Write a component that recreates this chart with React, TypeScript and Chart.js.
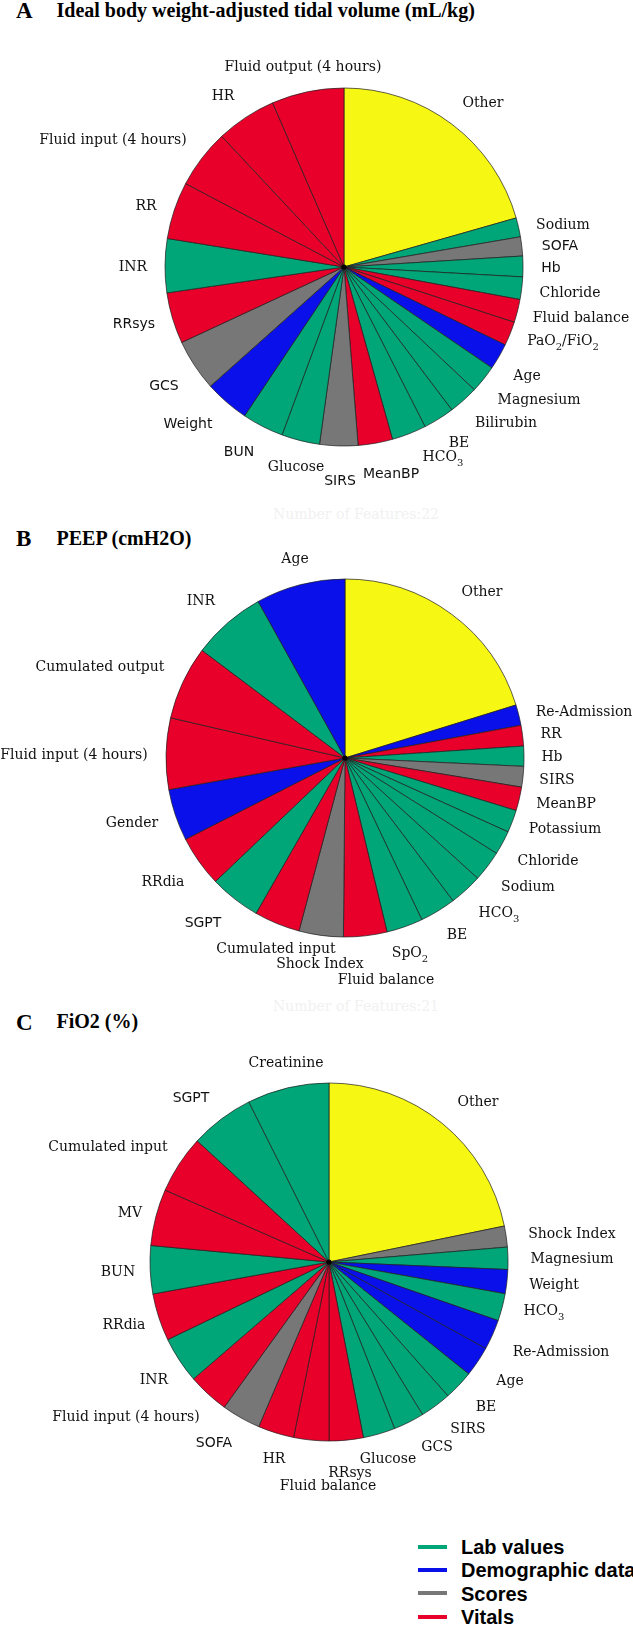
import React, { useEffect, useRef } from 'react';
import { Chart, registerables } from 'chart.js';

Chart.register(...registerables);

// ---------- palette per feature group ----------
const GROUP_COLORS: Record<string, string> = {
  other: '#f7f714',
  lab: '#00a678',
  demo: '#0a10ea',
  score: '#777777',
  vital: '#e8002a',
};

// ---------- Panel A: Ideal body weight-adjusted tidal volume ----------
const labelsA = [
  'Other', 'Sodium', 'SOFA', 'Hb', 'Chloride', 'Fluid balance', 'PaO_2/FiO_2', 'Age',
  'Magnesium', 'Bilirubin', 'BE', 'HCO_3', 'MeanBP', 'SIRS', 'Glucose', 'BUN', 'Weight',
  'GCS', 'RRsys', 'INR', 'RR', 'Fluid input (4 hours)', 'HR', 'Fluid output (4 hours)',
];
const valuesA = [
  20.58, 1.72, 1.72, 1.86, 2.03, 2.08, 2.17, 2.36,
  2.5, 2.69, 2.81, 3.11, 3.11, 3.44, 3.44, 3.75, 4.03,
  4.67, 4.61, 4.86, 5.17, 5.31, 5.44, 6.53,
];
const groupsA = [
  'other', 'lab', 'score', 'lab', 'lab', 'vital', 'vital', 'demo',
  'lab', 'lab', 'lab', 'lab', 'vital', 'score', 'lab', 'lab', 'demo',
  'score', 'vital', 'lab', 'vital', 'vital', 'vital', 'vital',
];
// label text centres, relative to the pie centre
const labelPosA: [number, number][] = [
  [139, -165], [219, -43], [216, -22], [207, 0], [226, 25], [237, 50], [219, 73], [183, 108],
  [195, 132], [162, 155], [115, 175], [99, 189], [47, 206], [-4, 213], [-48, 199], [-105, 184], [-156, 156],
  [-180, 118], [-210, 56], [-211, -1], [-198, -62], [-231, -128], [-121, -172], [-41, -201],
];
const sansA = ['SOFA', 'Hb', 'MeanBP', 'SIRS', 'BUN', 'Weight', 'GCS', 'RRsys'];

// ---------- Panel B: PEEP ----------
const labelsB = [
  'Other', 'Re-Admission', 'RR', 'Hb', 'SIRS', 'MeanBP', 'Potassium', 'Chloride', 'Sodium',
  'HCO_3', 'BE', 'SpO_2', 'Fluid balance', 'Shock Index', 'Cumulated input', 'SGPT', 'RRdia',
  'Gender', 'Fluid input (4 hours)', 'Cumulated output', 'INR', 'Age',
];
const valuesB = [
  20.22, 1.86, 1.86, 1.81, 1.86, 2.14, 2.03, 2.17, 2.78,
  2.97, 3.25, 3.28, 3.92, 4.0, 4.14, 4.61, 4.61,
  4.67, 6.44, 6.67, 6.67, 8.06,
];
const groupsB = [
  'other', 'demo', 'vital', 'lab', 'score', 'vital', 'lab', 'lab', 'lab',
  'lab', 'lab', 'lab', 'vital', 'score', 'vital', 'lab', 'vital',
  'demo', 'vital', 'vital', 'lab', 'demo',
];
const labelPosB: [number, number][] = [
  [137, -167], [239, -47], [206, -25], [207, -2], [212, 21], [221, 45], [220, 70], [203, 102], [183, 128],
  [154, 154], [112, 176], [65, 194], [41, 221], [-25, 205], [-69, 190], [-142, 164], [-182, 123],
  [-213, 64], [-271, -4], [-245, -92], [-144, -158], [-50, -200],
];
const sansB = ['SGPT'];

// ---------- Panel C: FiO2 ----------
const labelsC = [
  'Other', 'Shock Index', 'Magnesium', 'Weight', 'HCO_3', 'Re-Admission', 'Age', 'BE', 'SIRS',
  'GCS', 'Glucose', 'RRsys', 'Fluid balance', 'HR', 'SOFA', 'Fluid input (4 hours)', 'INR',
  'RRdia', 'BUN', 'MV', 'Cumulated input', 'SGPT', 'Creatinine',
];
const valuesC = [
  21.78, 1.89, 2.0, 2.17, 2.47, 2.72, 2.72, 2.69, 2.81,
  2.78, 2.89, 3.08, 3.17, 3.25, 3.53, 3.72, 4.19,
  4.28, 4.33, 5.11, 5.25, 5.78, 7.39,
];
const groupsC = [
  'other', 'score', 'lab', 'demo', 'lab', 'demo', 'demo', 'lab', 'lab',
  'lab', 'lab', 'vital', 'vital', 'vital', 'score', 'vital', 'lab',
  'vital', 'lab', 'vital', 'vital', 'lab', 'lab',
];
const labelPosC: [number, number][] = [
  [149, -161], [243, -29], [243, -4], [225, 22], [215, 48], [232, 89], [181, 118], [157, 144], [139, 166],
  [108, 184], [59, 196], [21, 210], [-1, 223], [-55, 196], [-115, 180], [-203, 154], [-175, 117],
  [-205, 62], [-211, 9], [-199, -50], [-221, -116], [-138, -165], [-43, -200],
];
const sansC = ['SGPT', 'SOFA'];

// ---------- legend ----------
const legendLabels = ['Lab values', 'Demographic data', 'Scores', 'Vitals'];
const legendGroups = ['lab', 'demo', 'score', 'vital'];

const W = 633;
const SERIF = '"DejaVu Serif", serif';
const SANS = '"DejaVu Sans", sans-serif';

function drawRichLabel(ctx: CanvasRenderingContext2D, text: string, x: number, y: number, family: string) {
  const segs: { t: string; sub: boolean }[] = [];
  let buf = '';
  for (let i = 0; i < text.length; i++) {
    if (text[i] === '_' && i + 1 < text.length) {
      if (buf) { segs.push({ t: buf, sub: false }); buf = ''; }
      segs.push({ t: text[i + 1], sub: true });
      i++;
    } else buf += text[i];
  }
  if (buf) segs.push({ t: buf, sub: false });
  const mainFont = `14px ${family}`;
  const subFont = `10px ${family}`;
  let total = 0;
  const widths = segs.map((s) => {
    ctx.font = s.sub ? subFont : mainFont;
    const w = ctx.measureText(s.t).width;
    total += w;
    return w;
  });
  ctx.textAlign = 'left';
  ctx.textBaseline = 'alphabetic';
  ctx.fillStyle = '#111';
  let px = x - total / 2;
  const base = y + 5.1;
  segs.forEach((s, i) => {
    ctx.font = s.sub ? subFont : mainFont;
    ctx.fillText(s.t, px, s.sub ? base + 4.5 : base);
    px += widths[i];
  });
}

type PieProps = {
  top: number;
  height: number;
  cx: number;
  cy: number;
  r: number;
  labels: string[];
  values: number[];
  groups: string[];
  pos: [number, number][];
  sans: string[];
};

function PieCanvas(props: PieProps) {
  const ref = useRef<HTMLCanvasElement>(null);
  useEffect(() => {
    const { top, height, cx, cy, r, labels, values, groups, pos, sans } = props;
    const localCy = cy - top;
    const labelPlugin = {
      id: 'outerLabels',
      afterDraw(chart: any) {
        const ctx = chart.ctx as CanvasRenderingContext2D;
        const meta = chart.getDatasetMeta(0);
        const arc = meta.data[0];
        const ox = arc.x;
        const oy = arc.y;
        ctx.save();
        ctx.beginPath();
        ctx.arc(ox, oy, 2.6, 0, Math.PI * 2);
        ctx.fillStyle = '#000';
        ctx.fill();
        labels.forEach((lab, i) => {
          const [dx, dy] = pos[i];
          const fam = sans.includes(lab) ? SANS : SERIF;
          drawRichLabel(ctx, lab, ox + dx, oy + dy, fam);
        });
        ctx.restore();
      },
    };
    const chart = new Chart(ref.current as HTMLCanvasElement, {
      type: 'pie',
      data: {
        labels,
        datasets: [
          {
            data: values,
            backgroundColor: groups.map((g) => GROUP_COLORS[g]),
            borderColor: '#1c1c1c',
            borderWidth: 0.7,
            radius: r,
          } as any,
        ],
      },
      options: {
        responsive: false,
        animation: false,
        events: [],
        layout: {
          padding: { left: cx - r, right: W - cx - r, top: localCy - r, bottom: height - localCy - r },
        },
        plugins: { legend: { display: false }, tooltip: { enabled: false } },
      },
      plugins: [labelPlugin],
    });
    return () => chart.destroy();
  }, []);
  return (
    <canvas
      ref={ref}
      width={W}
      height={props.height}
      style={{ position: 'absolute', left: 0, top: props.top, width: W, height: props.height }}
    />
  );
}

function Title({ letter, text, letterTop, textTop }: { letter: string; text: string; letterTop: number; textTop: number }) {
  const fam = '"Liberation Serif", "Times New Roman", serif';
  return (
    <>
      <div style={{ position: 'absolute', left: 16, top: letterTop, fontFamily: fam, fontWeight: 'bold', fontSize: 23, lineHeight: '23px', color: '#000', whiteSpace: 'nowrap' }}>{letter}</div>
      <div style={{ position: 'absolute', left: 56.5, top: textTop, fontFamily: fam, fontWeight: 'bold', fontSize: 20, lineHeight: '20px', color: '#000', whiteSpace: 'nowrap' }}>{text}</div>
    </>
  );
}

export default function App() {
  const legendRows = [1546.7, 1570, 1593.3, 1616.7];
  return (
    <div style={{ position: 'absolute', left: 0, top: 0, width: W, height: 1625, background: '#fff', overflow: 'hidden' }}>
      <Title letter="A" text="Ideal body weight-adjusted tidal volume (mL/kg)" letterTop={-1} textTop={0} />
      <Title letter="B" text="PEEP (cmH2O)" letterTop={527.4} textTop={528.3} />
      <Title letter="C" text="FiO2 (%)" letterTop={1010.7} textTop={1011.3} />
      <div style={{ position: 'absolute', left: 0, width: 712, textAlign: 'center', top: 506, fontFamily: SERIF, fontSize: 14, color: '#f1f1f1', whiteSpace: 'nowrap' }}>Number of Features:22</div>
      <div style={{ position: 'absolute', left: 0, width: 712, textAlign: 'center', top: 998, fontFamily: SERIF, fontSize: 14, color: '#f1f1f1', whiteSpace: 'nowrap' }}>Number of Features:21</div>
      <PieCanvas top={0} height={500} cx={344} cy={267} r={179} labels={labelsA} values={valuesA} groups={groupsA} pos={labelPosA} sans={sansA} />
      <PieCanvas top={500} height={500} cx={345} cy={758} r={179} labels={labelsB} values={valuesB} groups={groupsB} pos={labelPosB} sans={sansB} />
      <PieCanvas top={1000} height={530} cx={329} cy={1262} r={179} labels={labelsC} values={valuesC} groups={groupsC} pos={labelPosC} sans={sansC} />
      {legendLabels.map((lab, i) => (
        <React.Fragment key={lab}>
          <div style={{ position: 'absolute', left: 418, width: 29, top: legendRows[i] - 2, height: 4, background: GROUP_COLORS[legendGroups[i]] }} />
          <div style={{ position: 'absolute', left: 461, top: legendRows[i] - 9.8, fontFamily: '"Liberation Sans", Arial, sans-serif', fontWeight: 'bold', fontSize: 20, lineHeight: '20px', color: '#000', whiteSpace: 'nowrap' }}>{lab}</div>
        </React.Fragment>
      ))}
    </div>
  );
}
